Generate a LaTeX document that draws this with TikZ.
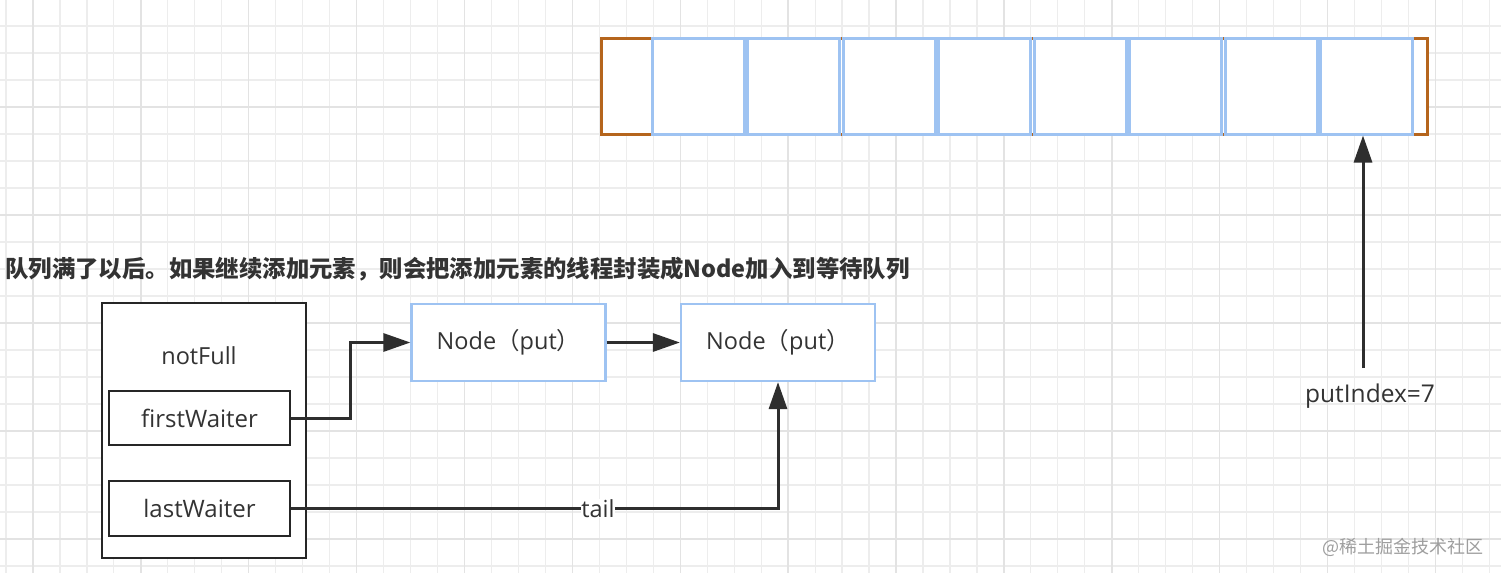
\documentclass[tikz,border=0pt]{standalone}
\usepackage{fontspec}
\setmainfont{Open Sans}
\newfontfamily\cjk{Noto Sans CJK SC}
\usetikzlibrary{arrows.meta}
\definecolor{cellblue}{HTML}{9EC3F2}
\definecolor{brownedge}{HTML}{B5651D}
\definecolor{ink}{HTML}{2E2E2E}
\definecolor{txt}{HTML}{333333}
\tikzset{
  gridminor/.style={draw=black!7, line width=1.2pt},
  gridmajor/.style={draw=black!11, line width=1.4pt},
  cellbox/.style={draw=cellblue, fill=white, line width=3pt, minimum width=92pt, minimum height=96pt, inner sep=0pt},
  nodebox/.style={draw=cellblue, fill=white, line width=2.2pt, minimum width=194pt, minimum height=77pt, inner sep=0pt, font=\fontsize{23.5}{27}\selectfont, text=txt},
  blackbox/.style={draw=black!85, fill=white, line width=2.4pt, inner sep=0pt},
  lbl/.style={font=\fontsize{23.5}{27}\selectfont, text=txt, inner sep=1pt},
  arr/.style={draw=ink, line width=3pt, -{Triangle[length=27pt,width=18pt]}},
}
\begin{document}
\begin{tikzpicture}[x=1pt,y=-1pt]
\useasboundingbox (0,0) rectangle (1501,573);
\fill[white] (0,0) rectangle (1501,573);
% grid
\foreach \k in {0,...,55} { \draw[gridminor] ({6+26.97*\k},0) -- ++(0,573); }
\foreach \k in {0,...,21} { \draw[gridminor] (0,{-1+27*\k}) -- ++(1501,0); }
\foreach \k in {0,...,13} { \draw[gridmajor] ({33+107.88*\k},0) -- ++(0,573); }
\foreach \k in {0,...,5} { \draw[gridmajor] (0,{-1+108*\k}) -- ++(1501,0); }
% array
\draw[brownedge, line width=3pt, fill=white] (601,38) rectangle (1427,134);
\foreach \i in {0,...,7} {
  \node[cellbox] (cell\i) at ({698+95.5*\i},86) {};
}
\coordinate (pt) at (1363,368);
\draw[arr] (pt) -- (pt |- cell7.south);
\node[lbl, font=\fontsize{24.5}{28}\selectfont] (pi) at (1370,396) {putIndex=7};
% title
\node[anchor=west, inner sep=0pt, text=txt, font=\cjk\bfseries\fontsize{23.4}{27}\selectfont] (title) at (5,269) {队列满了以后。如果继续添加元素，则会把添加元素的线程封装成Node加入到等待队列};
% notFull structure
\node[blackbox, minimum width=204pt, minimum height=255pt] (nf) at (204,430.5) {};
\node[lbl] (nft) at (199,356) {notFull};
\node[blackbox, minimum width=181pt, minimum height=54pt, font=\fontsize{24}{27}\selectfont, text=txt] (fw) at (199.5,418) {firstWaiter};
\node[blackbox, minimum width=181pt, minimum height=55pt, font=\fontsize{24}{27}\selectfont, text=txt] (lw) at (199.5,508.5) {lastWaiter};
% nodes
\node[nodebox] (n1) at (508.5,342.5) {Node{\cjk （}put{\cjk ）}};
\node[nodebox] (n2) at (778,342.5) {Node{\cjk （}put{\cjk ）}};
% connectors
\draw[arr] (fw.east) -- ++(59,0) |- (n1.west);
\draw[arr] (n1.east) -- (n2.west);
\draw[arr] (lw.east) -| node[pos=0.315, lbl, fill=white, inner sep=0.5pt] {tail} (n2.south);
% watermark
\node[text=black!38, font=\cjk\fontsize{18}{20}\selectfont, inner sep=0pt] (wm) at (1403,547) {@稀土掘金技术社区};
\end{tikzpicture}
\end{document}
